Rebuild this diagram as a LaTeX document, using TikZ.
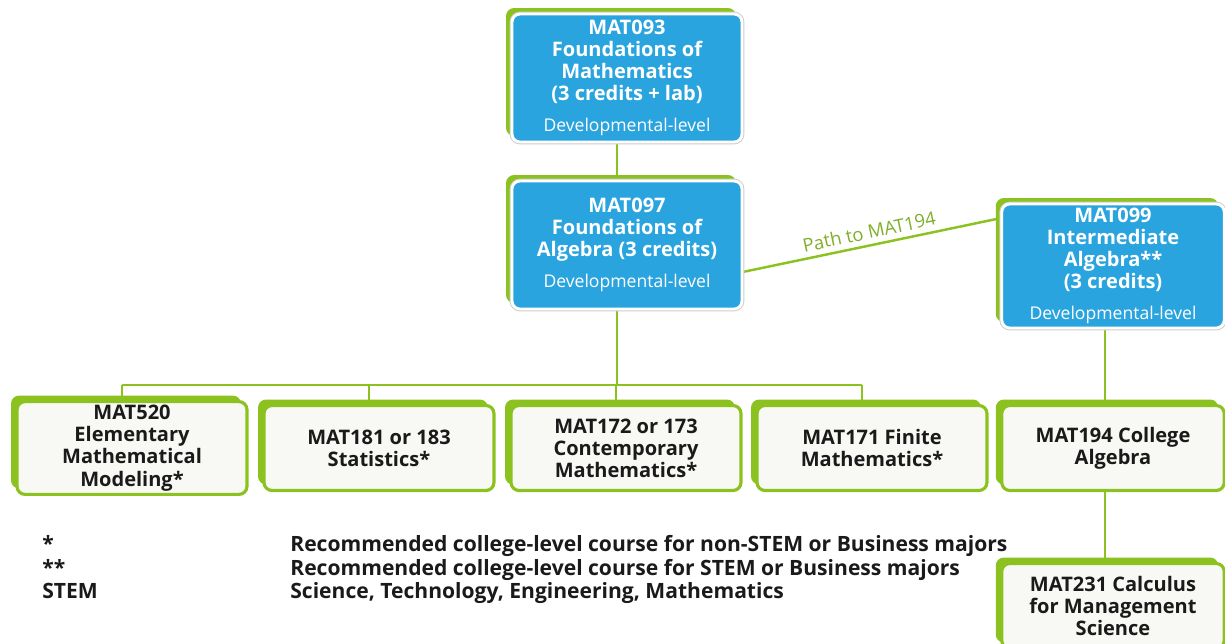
\documentclass[tikz,border=0pt]{standalone}
\usepackage{fontspec}
\setmainfont{Open Sans}
\usetikzlibrary{shadows}
\pgfdeclarelayer{bg}
\pgfsetlayers{bg,main}
\definecolor{mblue}{HTML}{2AA4DE}
\definecolor{mgreen}{HTML}{8CC220}
\definecolor{mpale}{HTML}{F8F9F5}
\definecolor{mtext}{HTML}{1A1A1A}
\definecolor{mlabel}{HTML}{7FAE2A}
\newcommand{\devlevel}{{\mdseries\fontsize{10}{11}\selectfont Developmental-level}}

\begin{document}
\begin{tikzpicture}
[%%%%%%%%%%%%%%%%%%%%%%%%%%%%%%
x=0.02cm, y=-0.02cm,
course/.style={rectangle, rounded corners=0.16cm, minimum width=4.6cm, align=center, inner sep=2pt,
  font=\fontsize{11.4}{12.6}\selectfont\bfseries,
  general shadow={fill=mgreen, shadow xshift=-0.12cm, shadow yshift=0.12cm}},
devbox/.style={course, preaction={draw=black!20, line width=2.7pt}, fill=mblue, draw=white, line width=1.6pt, text=white, minimum height=2.56cm},
credbox/.style={course, fill=mpale, draw=mgreen, line width=1.8pt, text=mtext, minimum height=1.7cm},
link/.style={draw=mgreen, line width=1.4pt},
pathlbl/.style={text=mlabel, font=\fontsize{10.5}{12}\selectfont, inner sep=3pt},
note/.style={text=mtext, font=\fontsize{12}{13}\selectfont\bfseries, inner sep=0pt},
]%%%%%%%%%%%%%%%%%%%%%%%%%%%%%%
\useasboundingbox (0,0) rectangle (1225,643);

% developmental courses
\node[devbox] (m093) at (627,78) {MAT093\\Foundations of\\Mathematics\\(3 credits + lab)\\[5pt]\devlevel};
\node[devbox] (m097) at (627,245) {MAT097\\Foundations of\\Algebra (3 credits)\\[5pt]\devlevel};
\node[devbox, minimum width=4.45cm, minimum height=2.48cm] (m099) at (1113,266) {MAT099\\Intermediate\\Algebra**\\(3 credits)\\[5pt]\devlevel};

% college-level courses
\node[credbox] (m520) at (132,448) {MAT520\\Elementary\\Mathematical\\Modeling*};
\node[credbox] (m181) at (379,448) {MAT181 or 183\\Statistics*};
\node[credbox] (m172) at (626,448) {MAT172 or 173\\Contemporary\\Mathematics*};
\node[credbox] (m171) at (872,448) {MAT171 Finite\\Mathematics*};
\node[credbox, minimum width=4.45cm] (m194) at (1113,448) {MAT194 College\\Algebra};
\node[credbox, minimum width=4.45cm] (m231) at (1113,606) {MAT231 Calculus\\for Management\\Science};

\coordinate (bus) at (0,385);

% connectors
\begin{pgfonlayer}{bg}
\draw[link] ([xshift=-0.2cm]m093.south) -- ([xshift=-0.2cm]m097.north);
\draw[link] (m097.-13) -- node[above, sloped, pathlbl]{Path to MAT194} (m099.157);
\draw[link] ([xshift=-0.2cm]m097.south) -- ([xshift=-0.2cm]m097.south |- bus);
\draw[link] ([xshift=-0.2cm]m520.north |- bus) -- ([xshift=-0.2cm]m171.north |- bus);
\foreach \n in {m520,m181,m172,m171}
\draw[link] ([xshift=-0.2cm]\n.north) -- ([xshift=-0.2cm]\n.north |- bus);
\draw[link] ([xshift=-0.16cm]m099.south) -- ([xshift=-0.16cm]m194.north);
\draw[link] ([xshift=-0.16cm]m194.south) -- ([xshift=-0.16cm]m231.north);
\end{pgfonlayer}

% legend
\foreach \k/\t [count=\i] in {{*}/{Recommended college-level course for non-STEM or Business majors},
{**}/{Recommended college-level course for STEM or Business majors},
{STEM}/{Science, Technology, Engineering, Mathematics}}{
\node[note, anchor=base west] (key\i) at (42,528+23.5*\i) {\k};
\node[note, anchor=base west] (def\i) at (290,528+23.5*\i) {\t};
}
\end{tikzpicture}
\end{document}
